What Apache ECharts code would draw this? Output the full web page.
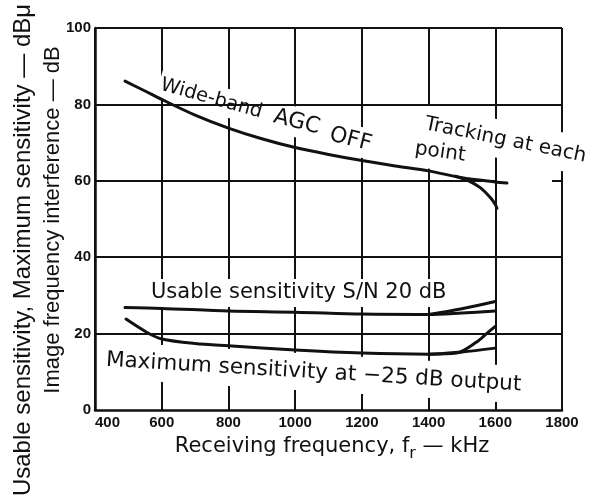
<!DOCTYPE html>
<html>
<head>
<meta charset="utf-8">
<script src="https://cdn.jsdelivr.net/npm/echarts@6/dist/echarts.min.js"></script>
<style>
html,body{margin:0;padding:0;background:#fff;}
#c{width:593px;height:502px;}
</style>
</head>
<body>
<div id="c"></div>
<script>
// ---- data ----
const xTicks = [400, 600, 800, 1000, 1200, 1400, 1600, 1800];   // kHz
const yTicks = [0, 20, 40, 60, 80, 100];                         // dB
const gridRowsFull = [20, 40, 80, 100];
const gridRow60 = [[400, 1600], [1770, 1800]];

const agcOff = [[490,86.1],[550,83.5],[600,81.3],[700,77.2],[800,73.8],[900,71.0],[1000,68.7],[1100,66.9],[1200,65.3],[1300,63.9],[1400,62.6],[1500,60.8],[1600,59.7],[1635,59.4]];
const agcTracking = [[1480,61.2],[1520,60.0],[1555,58.2],[1585,55.6],[1600,53.8],[1605,52.8]];
const usable = [[490,26.8],[600,26.6],[800,25.9],[1000,25.6],[1200,25.1],[1400,25.0],[1500,25.4],[1600,25.9]];
const usableTracking = [[1400,25.0],[1500,26.5],[1600,28.4]];
const maxSens = [[493,23.8],[556,20.3],[600,18.6],[700,17.4],[800,16.8],[1000,15.7],[1200,14.9],[1400,14.6],[1500,15.2],[1600,16.2]];
const maxTracking = [[1400,14.6],[1484,14.9],[1544,17.8],[1574,20.0],[1600,21.9]];

// ---- chart ----
const INK = '#111';
const TXT = 'DejaVu Sans';
const chart = echarts.init(document.getElementById('c'));

function curve(name, data) {
  return {
    type: 'line', name: name, data: data, z: 3,
    smooth: 0.3, symbol: 'none', silent: true,
    lineStyle: { color: INK, width: 3, cap: 'round', join: 'round' },
    emphasis: { disabled: true }
  };
}

const gridMarks = gridRowsFull.map(v => [{ coord: [xTicks[0], v] }, { coord: [xTicks[xTicks.length - 1], v] }])
  .concat(gridRow60.map(seg => [{ coord: [seg[0], 60] }, { coord: [seg[1], 60] }]));

function label(text, x, y, rotDeg, size, pad) {
  return {
    type: 'text', x: x, y: y, rotation: -rotDeg * Math.PI / 180, z: 1, silent: true,
    style: {
      text: text, fontSize: size, fontFamily: TXT, fill: INK,
      align: 'left', verticalAlign: 'middle',
      backgroundColor: '#fff', padding: pad
    }
  };
}

chart.setOption({
  animation: false,
  backgroundColor: '#fff',
  grid: { left: 95, right: 31, top: 28, bottom: 92, containLabel: false },
  xAxis: {
    type: 'value', min: xTicks[0], max: xTicks[xTicks.length - 1], interval: 200,
    axisLine: { show: true, lineStyle: { color: INK, width: 2.5 } },
    axisTick: { show: false },
    splitLine: { show: true, lineStyle: { color: INK, width: 2 } },
    axisLabel: {
      color: INK, fontFamily: 'Liberation Sans', fontWeight: 'bold', fontSize: 15,
      margin: 5, alignMinLabel: 'left', formatter: v => String(v)
    }
  },
  yAxis: {
    type: 'value', min: yTicks[0], max: yTicks[yTicks.length - 1], interval: 20,
    axisLine: { show: true, lineStyle: { color: INK, width: 2.5 } },
    axisTick: { show: false },
    splitLine: { show: false },
    axisLabel: {
      color: INK, fontFamily: 'Liberation Sans', fontWeight: 'bold', fontSize: 15,
      margin: 4, padding: [0, 0, 4, 0], formatter: v => String(v)
    }
  },
  series: [
    {
      type: 'line', data: [], z: 0, silent: true, symbol: 'none',
      markLine: {
        silent: true, symbol: ['none', 'none'], label: { show: false },
        lineStyle: { color: INK, width: 2, type: 'solid' },
        emphasis: { disabled: true },
        data: gridMarks
      }
    },
    curve('Wide-band AGC OFF', agcOff),
    curve('Tracking (AGC)', agcTracking),
    curve('Usable sensitivity S/N 20 dB', usable),
    curve('Tracking (usable)', usableTracking),
    curve('Maximum sensitivity at -25 dB output', maxSens),
    curve('Tracking (max)', maxTracking)
  ],
  graphic: [
    // axis titles
    {
      type: 'text', x: 23.5, y: 250, rotation: Math.PI / 2, z: 1, silent: true,
      style: { text: 'Usable sensitivity, Maximum sensitivity — dBμ', fontSize: 24, fontFamily: 'Liberation Sans',
        fill: INK, align: 'center', verticalAlign: 'middle' }
    },
    {
      type: 'text', x: 52.5, y: 220, rotation: Math.PI / 2, z: 1, silent: true,
      style: { text: 'Image frequency interference — dB', fontSize: 22, fontFamily: 'Liberation Sans',
        fill: INK, align: 'center', verticalAlign: 'middle' }
    },
    {
      type: 'text', x: 332, y: 447, z: 1, silent: true,
      style: {
        text: 'Receiving frequency, f{s|r} — kHz', fontSize: 21, fontFamily: TXT, fill: INK,
        align: 'center', verticalAlign: 'middle',
        rich: { s: { fontSize: 16, fontFamily: TXT, fill: INK, padding: [14, 0, 0, 0] } }
      }
    },
    // curve labels
    label('Wide-band', 159, 84, 15.6, 19.5, [2, 2, 6, 2]),
    label('AGC', 272, 116, 14, 22, [2, 2, 6, 2]),
    label('OFF', 328, 134, 14, 22, [2, 2, 6, 2]),
    label('Tracking at each', 421, 123, 11.5, 20, [12, 4, 6, 4]),
    label('point', 411, 148, 8, 20, [4, 4, 12, 4]),
    label('Usable sensitivity S/N 20 dB', 148, 293, 0, 21, [3, 3, 4, 3]),
    label('Maximum sensitivity at −25 dB output', 103, 360, 3.4, 21.5, [12, 3, 3, 3])
  ]
});
</script>
</body>
</html>
